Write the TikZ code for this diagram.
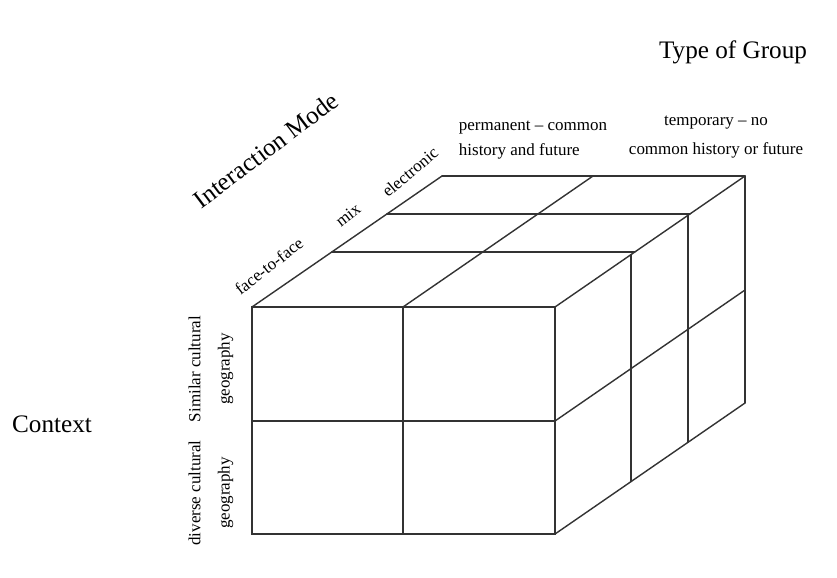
\documentclass[tikz,border=0pt]{standalone}
\usepackage{fontspec}
\setmainfont{Liberation Serif}
\tikzset{
    big/.style={font=\fontsize{21.5}{26}\selectfont, inner sep=0pt},
    small/.style={font=\fontsize{14.5}{22}\selectfont, inner sep=0pt},
    edge/.style={line width=1.2pt, black!80, line cap=round}
}
\begin{document}
\begin{tikzpicture}[x=0.03cm, y=-0.03cm, z={(5.7cm,3.93cm)}]
    \useasboundingbox (0,0) rectangle (837,577);
    % front face
    \draw[edge] (252,307) rectangle (555,534);
    \draw[edge] (403,307) -- (403,534);
    \draw[edge] (252,421) -- (555,421);
    % top and right faces, one line per layer of depth
    \foreach \d in {0.42,0.71,1}{
        \draw[edge] (252,307,\d) -- (555,307,\d);
    }
    \foreach \d in {0.40,0.70,1}{
        \draw[edge] (555,307,\d) -- (555,534,\d);
    }
    \foreach \x in {252,403,555}{
        \draw[edge] (\x,307,0) -- (\x,307,1);
    }
    \foreach \y in {421,534}{
        \draw[edge] (555,\y,0) -- (555,\y,1);
    }
    % axis titles
    \node[big, anchor=base] (group) at (733,58) {Type of Group};
    \node[big, anchor=base] (context) at (52,432) {Context};
    \node[big, rotate=37] (mode) at (266,150) {Interaction Mode};
    % interaction modes
    \node[small, rotate=38] (f2f) at (269,266) {face-to-face};
    \node[small, rotate=38] (mix) at (348,215) {mix};
    \node[small, rotate=40] (elec) at (410,172) {electronic};
    % group types
    \node[small, align=left] (perm) at (533,140) {permanent -- common\\history and future};
    \node[small, align=center, font=\fontsize{14.5}{24}\selectfont] (temp) at (716,137) {temporary -- no\\common history or future};
    % contexts
    \node[small, rotate=90, align=center, font=\fontsize{14.5}{25}\selectfont] (similar) at (211,369) {Similar cultural\\geography};
    \node[small, rotate=90, align=center, font=\fontsize{14.5}{25}\selectfont] (diverse) at (211,493) {diverse cultural\\geography};
\end{tikzpicture}
\end{document}
